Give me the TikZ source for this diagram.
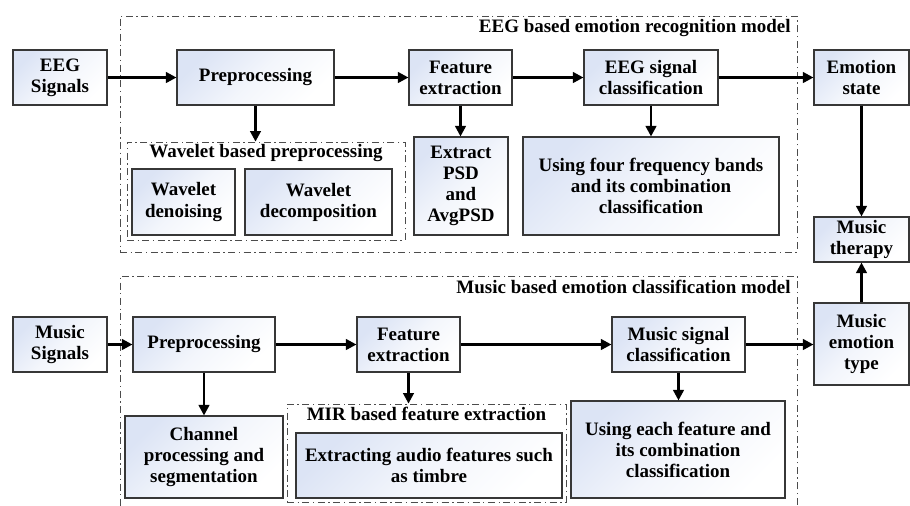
\documentclass[tikz,border=0pt]{standalone}
\usepackage{fontspec}
\setmainfont{Liberation Serif}
\usetikzlibrary{arrows.meta}

\definecolor{boxblue}{RGB}{220,228,245}
\definecolor{edgegray}{RGB}{55,55,55}

\tikzset{
    blk/.style={draw=edgegray, line width=0.6pt, top color=boxblue, bottom color=white,
        middle color=boxblue!35!white, shading angle=45, align=center, inner sep=1pt,
        font=\bfseries\fontsize{10.8}{12}\selectfont},
    grp/.style={draw=black!70, line width=0.45pt, inner sep=0pt,
        dash pattern=on 4pt off 2pt on 0.8pt off 2pt},
    ttl/.style={font=\bfseries\fontsize{10.8}{12}\selectfont, inner sep=0pt},
    arr/.style={->, line width=1.4pt},
    >={Triangle[length=6pt,width=6pt]}
}

\begin{document}
\begin{tikzpicture}[x=0.02cm, y=-0.02cm]
    \useasboundingbox (0,0) rectangle (910,505);

    % the two model frames
    \node[grp, minimum width=677*0.02cm, minimum height=236*0.02cm] (eegframe) at (458.5,134) {};
    \node[grp, minimum width=677*0.02cm, minimum height=232*0.02cm] (musframe) at (458.5,392) {};
    \node[ttl, anchor=east] (eegttl) at (791,28) {EEG based emotion recognition model};
    \node[ttl, anchor=east] (musttl) at (791,287) {Music based emotion classification model};

    % sub frames
    \node[grp, minimum width=278*0.02cm, minimum height=98*0.02cm] (wavframe) at (266,191) {};
    \node[ttl] (wavttl) at (266,153) {Wavelet based preprocessing};
    \node[grp, minimum width=279*0.02cm, minimum height=98*0.02cm] (mirframe) at (426.5,453) {};
    \node[ttl] (mirttl) at (426.5,414) {MIR based feature extraction};

    % EEG row
    \node[blk, minimum width=94*0.02cm, minimum height=55*0.02cm] (eegin) at (60,77.5) {EEG\\Signals};
    \node[blk, minimum width=157*0.02cm, minimum height=55*0.02cm] (eegpre) at (255.5,77.5) {Preprocessing};
    \node[blk, minimum width=103*0.02cm, minimum height=55*0.02cm] (eegfeat) at (460.5,77.5) {Feature\\extraction};
    \node[blk, minimum width=134*0.02cm, minimum height=55*0.02cm] (eegcls) at (651,77.5) {EEG signal\\classification};
    \node[blk, minimum width=95*0.02cm, minimum height=55*0.02cm] (emo) at (861.5,77.5) {Emotion\\state};

    \node[blk, minimum width=103*0.02cm, minimum height=66*0.02cm] (wden) at (183.5,202) {Wavelet\\denoising};
    \node[blk, minimum width=147*0.02cm, minimum height=66*0.02cm] (wdec) at (318.5,202) {Wavelet\\decomposition};
    \node[blk, minimum width=94*0.02cm, minimum height=98*0.02cm] (psd) at (461,186) {Extract\\PSD\\and\\AvgPSD};
    \node[blk, minimum width=256*0.02cm, minimum height=98*0.02cm] (bands) at (651,186) {Using four frequency bands\\and its combination\\classification};
    \node[blk, minimum width=95*0.02cm, minimum height=45*0.02cm] (therapy) at (861.5,239.5) {Music\\therapy};

    % music row
    \node[blk, minimum width=94*0.02cm, minimum height=55*0.02cm] (musin) at (60,344.5) {Music\\Signals};
    \node[blk, minimum width=142*0.02cm, minimum height=55*0.02cm] (muspre) at (204,344.5) {Preprocessing};
    \node[blk, minimum width=103*0.02cm, minimum height=55*0.02cm] (musfeat) at (408.5,344.5) {Feature\\extraction};
    \node[blk, minimum width=133*0.02cm, minimum height=55*0.02cm] (muscls) at (678.5,344.5) {Music signal\\classification};
    \node[blk, minimum width=95*0.02cm, minimum height=82*0.02cm] (mtype) at (861.5,344) {Music\\emotion\\type};

    \node[blk, minimum width=158*0.02cm, minimum height=82*0.02cm] (chan) at (204,457) {Channel\\processing and\\segmentation};
    \node[blk, minimum width=266*0.02cm, minimum height=65*0.02cm] (audio) at (429,465.5) {Extracting audio features such\\as timbre};
    \node[blk, minimum width=214*0.02cm, minimum height=97*0.02cm] (each) at (678,449.5) {Using each feature and\\its combination\\classification};

    % connectors
    \draw[arr] (eegin) -- (eegpre);
    \draw[arr] (eegpre) -- (eegfeat);
    \draw[arr] (eegfeat) -- (eegcls);
    \draw[arr] (eegcls) -- (emo);
    \draw[arr] (eegpre.south) -- (eegpre.south |- wavframe.north);
    \draw[arr] (eegfeat.south) -- (eegfeat.south |- psd.north);
    \draw[arr] (eegcls.south) -- (eegcls.south |- bands.north);
    \draw[arr] (emo) -- (therapy);
    \draw[arr] (mtype) -- (therapy);

    \draw[arr] (musin) -- (muspre);
    \draw[arr] (muspre) -- (musfeat);
    \draw[arr] (musfeat) -- (muscls);
    \draw[arr] (muscls.east) -- (muscls.east -| mtype.west);
    \draw[arr] (muspre.south) -- (muspre.south |- chan.north);
    \draw[arr] (musfeat.south) -- (musfeat.south |- mirframe.north);
    \draw[arr] (muscls.south) -- (muscls.south |- each.north);
\end{tikzpicture}
\end{document}
